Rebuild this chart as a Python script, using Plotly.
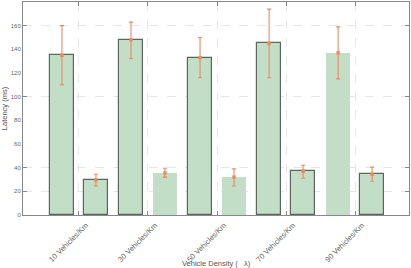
import numpy as np
import plotly.graph_objects as go

categories = ["10 Vehicles/Km", "30 Vehicles/Km", "50 Vehicles/Km", "70 Vehicles/Km", "90 Vehicles/Km"]
series_a = [135, 148, 133, 145, 137]
series_a_hi = [160, 163, 150, 174, 159]
series_a_lo = [110, 132, 116, 116, 115]
series_b = [29.5, 35.5, 32, 37, 34.5]
series_b_hi = [34.5, 39.5, 39, 42, 40.5]
series_b_lo = [24.5, 32, 24.5, 31, 28.5]
outline_a = [1.2, 1.2, 1.2, 1.2, 0]
outline_b = [1.2, 0, 0, 1.2, 1.2]
grid_vals = [20, 40, 100, 160]
y_ticks = list(range(0, 181, 20))
x_title = "Vehicle Density (   λ)"
y_title = "Latency (ms)"

pos = np.arange(len(categories))
off = 0.246
w = 0.348
fill = "#c3dec6"
edge = "#5a665e"
err = "#ec8a5e"

fig = go.Figure()
for xs, vals, hi, lo, lw in [
    (pos - off, series_a, series_a_hi, series_a_lo, outline_a),
    (pos + off, series_b, series_b_hi, series_b_lo, outline_b),
]:
    vals = np.array(vals)
    fig.add_trace(go.Bar(
        x=xs, y=vals, width=w,
        marker=dict(color=fill, line=dict(color=edge, width=lw)),
        showlegend=False, hoverinfo="skip",
    ))
    fig.add_trace(go.Scatter(
        x=xs, y=vals, mode="markers",
        marker=dict(symbol="square", size=3.5, color=err),
        error_y=dict(type="data", symmetric=False,
                     array=np.array(hi) - vals, arrayminus=vals - np.array(lo),
                     color=err, thickness=1.1, width=2),
        showlegend=False, hoverinfo="skip",
    ))

fig.add_trace(go.Scatter(x=[pos[0]], y=[0], yaxis="y2", mode="markers",
                         marker=dict(opacity=0), showlegend=False, hoverinfo="skip"))

font = "Liberation Sans, Arial, sans-serif"
fig.update_layout(
    width=411, height=268,
    margin=dict(l=23, r=2, t=2, b=53, autoexpand=False),
    plot_bgcolor="white", paper_bgcolor="white",
    font=dict(family=font, size=7, color="#555555"),
    xaxis=dict(
        range=[-0.81, 4.78], automargin=False,
        tickvals=pos, ticktext=categories, tickangle=-45,
        ticks="inside", ticklen=4, tickcolor="#888888",
        showline=True, linecolor="#888888", linewidth=1, mirror="ticks",
        showgrid=True, gridcolor="#e6e6e6", griddash="dash", gridwidth=1,
        zeroline=False, ticklabelstandoff=2, ticklabelshift=7,
        tickfont=dict(size=7.5, color="#666666"),
    ),
    yaxis=dict(
        range=[0, 180], tickvals=y_ticks, automargin=False,
        ticks="", showgrid=False, zeroline=False,
        showline=True, linecolor="#888888", linewidth=1,
        title=dict(text=y_title, font=dict(size=7.5, color="#555555"), standoff=3),
        tickfont=dict(size=6, color="#666666"),
    ),
    yaxis2=dict(
        range=[0, 180], tickvals=grid_vals, overlaying="y", side="right",
        showticklabels=False, ticks="inside", ticklen=4, tickcolor="#888888",
        showline=True, linecolor="#888888", linewidth=1, mirror="ticks",
        showgrid=True, gridcolor="#e6e6e6", griddash="dash", gridwidth=1,
        zeroline=False, automargin=False,
    ),
    annotations=[dict(text=x_title, xref="paper", yref="paper", x=0.5, y=-0.228,
                      xanchor="center", yanchor="middle", showarrow=False,
                      font=dict(size=7.5, color="#555555"))],
    bargap=0,
)
fig.write_html("out.html", config={"displayModeBar": False},
               post_script="document.body.style.margin='0';document.body.style.overflow='hidden';")
